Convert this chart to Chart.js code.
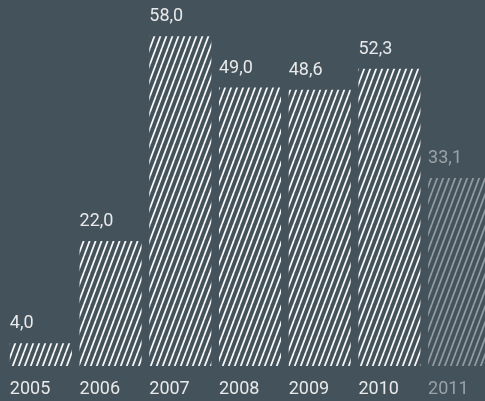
<!DOCTYPE html>
<html>
<head>
<meta charset="utf-8">
<script src="https://cdn.jsdelivr.net/npm/chart.js@4"></script>
<style>
  html, body { margin: 0; padding: 0; background: #44525b; overflow: hidden; }
  #c { display: block; }
</style>
</head>
<body>
<canvas id="c" width="500" height="401"></canvas>
<script>
var years = ["2005", "2006", "2007", "2008", "2009", "2010", "2011"];
var values = [4.0, 22.0, 58.0, 49.0, 48.6, 52.3, 33.1];
var forecast = [false, false, false, false, false, false, true];

var makeStripes = function(color) {
    var p = document.createElement("canvas");
    p.width = 6;
    p.height = 16;
    var x = p.getContext("2d");
    x.strokeStyle = color;
    x.lineWidth = 1.7;
    for (var k = -1; k <= 1; k++) {
        x.beginPath();
        x.moveTo(k * 6, 16);
        x.lineTo(k * 6 + 6, 0);
        x.stroke();
    }
    return x.createPattern(p, "repeat");
};

var ctx = document.getElementById("c").getContext("2d");
var solid = makeStripes("rgba(255,255,255,0.97)"),
    faded = makeStripes("rgba(200,205,210,0.6)");

var fmt = function(v) {
    return v.toFixed(1).replace(".", ",");
};

var labelPlugin = {
    id: "labels",
    afterDatasetsDraw: function(chart) {
        var c = chart.ctx,
            meta = chart.getDatasetMeta(0);
        c.save();
        c.font = "18px Roboto";
        c.textAlign = "left";
        c.textBaseline = "alphabetic";
        meta.data.forEach(function(bar, i) {
            var left = bar.x - bar.width / 2;
            c.fillStyle = forecast[i] ? "#9aa2a8" : "#e8e9ea";
            c.fillText(fmt(values[i]), left, bar.y - 15);
            c.fillText(years[i], left, 394);
        });
        c.restore();
    }
};

new Chart(ctx, {
    type: "bar",
    data: {
        labels: years,
        datasets: [{
            data: values,
            backgroundColor: forecast.map(function(f) { return f ? faded : solid; }),
            borderWidth: 0,
            barPercentage: 0.89,
            categoryPercentage: 1
        }]
    },
    options: {
        responsive: false,
        animation: false,
        layout: { padding: { top: 25, bottom: 35, left: 6, right: 6 } },
        plugins: { legend: { display: false }, tooltip: { enabled: false } },
        scales: {
            x: { display: false },
            y: { display: false, min: 0, max: 60 }
        }
    },
    plugins: [labelPlugin]
});
</script>
</body>
</html>
